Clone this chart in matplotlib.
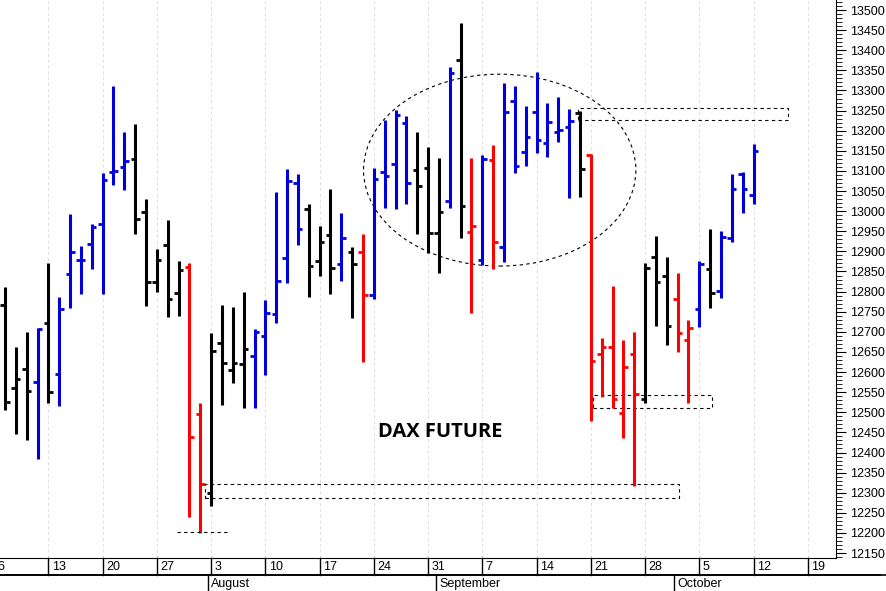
import matplotlib.pyplot as plt
from matplotlib.patches import Ellipse, Rectangle
import matplotlib.transforms as mtrans

plt.rcParams['font.family'] = ['Liberation Sans', 'DejaVu Sans']

# trading-day index 1 = Tue 7 Jul 2020
highs = [12811, 12662, 12700, 12710, 12871, 12787, 12993, 12913, 12968, 13095,
         13311, 13197, 13217, 13030, 12906, 12978, 12876, 12871, 12523, 12697,
         12767, 12762, 12799, 12707, 12779, 13048, 13105, 13092, 13018, 12963,
         13055, 12995, 12911, 12943, 13107, 13227, 13251, 13236, 13197, 13159,
         13132, 13358, 13468, 13132, 13140, 13164, 13319, 13311, 13261, 13346,
         13269, 13284, 13254, 13249, 13142, 12685, 12814, 12680, 12700, 12871,
         12938, 12886, 12846, 12729, 12876, 12956, 12951, 13092, 13097, 13167]
lows = [12506, 12446, 12431, 12384, 12523, 12516, 12759, 12794, 12856, 12794,
        13065, 13053, 12943, 12764, 12799, 12737, 12739, 12240, 12200, 12267,
        12518, 12573, 12511, 12511, 12593, 12722, 12821, 12916, 12787, 12839,
        12794, 12826, 12734, 12625, 12782, 13008, 13005, 13018, 12943, 12896,
        12846, 13008, 12933, 12747, 12866, 12856, 12874, 13095, 13112, 13145,
        13135, 13172, 13033, 13035, 12478, 12538, 12511, 12436, 12317, 12523,
        12715, 12667, 12650, 12523, 12712, 12759, 12784, 12923, 12995, 13018]
opens = [12767, 12560, 12608, 12575, 12722, 12595, 12844, 12879, 12918, 12968,
         13097, 13110, 13130, 12998, 12824, 12916, 12796, 12861, 12496, 12299,
         12672, 12605, 12620, 12640, 12690, 12744, 12883, 13070, 13005, 12876,
         12941, 12869, 12898, 12898, 12792, 13097, 13117, 13219, 13102, 13107,
         12946, 13025, 13376, 12948, 12879, 13127, 12911, 13274, 13147, 13246,
         13169, 13197, 13209, 13244, 13140, 12645, 12662, 12498, 12645, 12533,
         12886, 12839, 12782, 12680, 12757, 12856, 12801, 12933, 13092, 13040]
closes = [12525, 12583, 12553, 12707, 12550, 12757, 12898, 12879, 12961, 13077,
          13100, 13125, 12981, 12824, 12879, 12782, 12854, 12439, 12322, 12652,
          12623, 12623, 12657, 12700, 12747, 12826, 13075, 12956, 12864, 12923,
          12859, 12933, 12869, 12792, 13080, 13087, 13239, 13070, 13063, 12946,
          12998, 13343, 13013, 12963, 13130, 12923, 13246, 13112, 13184, 13177,
          13222, 13202, 13224, 13105, 12628, 12662, 12533, 12613, 12545, 12859,
          12824, 12715, 12697, 12710, 12869, 12796, 12936, 13055, 13055, 13150]
colors = ("kkkbkbbbbbbbkkkkkrrkkkkbbbbbkkkbkrbbbbkkkbkrbrbbbbbbbkrrrrrkkkrrbkbbbb")

week_idx = [0, 5, 10, 15, 20, 25, 30, 35, 40, 45, 50, 55, 60, 65, 70, 75]
week_labels = ["6", "13", "20", "27", "3", "10", "17", "24", "31", "7", "14",
               "21", "28", "5", "12", "19"]
month_idx = [20, 41, 63]
month_labels = ["August", "September", "October"]

cmap = {"k": "black", "b": "#0000dd", "r": "#ff0000"}

fig = plt.figure(figsize=(8.87, 5.91), dpi=100)
ax = fig.add_axes([0, 0.0558, 836 / 887, 1 - 0.0558])

x = list(range(1, len(highs) + 1))
for i, h, l, o, c, col in zip(x, highs, lows, opens, closes, colors):
    cc = cmap[col]
    ax.vlines(i, l, h, color=cc, lw=2.2)
    ax.hlines(o, i - 0.42, i, color=cc, lw=2.0)
    ax.hlines(c, i, i + 0.42, color=cc, lw=2.0)

for w in week_idx:
    ax.axvline(w, color="#dcdce6", lw=0.7, ls=(0, (3, 3)), zorder=0)

ax.set_xlim(0.54, 77.6)
ax.set_ylim(12137.7, 13524.9)

# annotations
ax.add_patch(Ellipse((46.6, 13102), 25.1, 477, fill=False, ls=(0, (3, 3)), lw=0.8, color="black"))
for x0, x1, y0, y1 in [(53.8, 73.2, 13227, 13256), (19.4, 63.1, 12287, 12322),
                       (55.2, 66.2, 12511, 12543)]:
    ax.add_patch(Rectangle((x0, y0), x1 - x0, y1 - y0, fill=False,
                           ls=(0, (3, 3)), lw=0.8, color="black"))
ax.hlines(12202, 16.9, 21.7, color="black", lw=0.8, linestyles=(0, (3, 3)))
ax.text(41.1, 12451, "DAX FUTURE", ha="center", va="center", fontsize=14.5,
        fontweight="bold", family=["Open Sans", "DejaVu Sans"])

# right y axis
ax.yaxis.tick_right()
ax.set_yticks(range(12150, 13501, 50))
ax.set_yticks(range(12140, 13521, 10), minor=True)
ax.tick_params(axis="y", which="major", length=7, labelsize=9, pad=3)
ax.tick_params(axis="y", which="minor", length=4)
ax.set_xticks([])
for s in ["top", "left"]:
    ax.spines[s].set_visible(False)

# date rows
tr = mtrans.blended_transform_factory(ax.transData, ax.transAxes)
row = 17 / 558
for w, lab in zip(week_idx, week_labels):
    ax.plot([w, w], [0, -row], color="black", lw=1, transform=tr, clip_on=False)
    ax.text(w + 0.3, -row / 2, lab, transform=tr, ha="left", va="center",
            fontsize=9, clip_on=False)
ax.plot([0.54, 77.6 + 6], [-row, -row], color="black", lw=1.2, transform=tr, clip_on=False)
fig.add_artist(plt.Line2D([0, 836 / 887 + 0.05], [(591 - 575) / 591] * 2, color="black", lw=1.2))
for m, lab in zip(month_idx, month_labels):
    ax.plot([m - 0.3, m - 0.3], [-row, -2 * row], color="black", lw=1, transform=tr, clip_on=False)
    ax.text(m, -1.5 * row, lab, transform=tr, ha="left", va="center",
            fontsize=9, clip_on=False)

fig.savefig("out.png", dpi=100)
